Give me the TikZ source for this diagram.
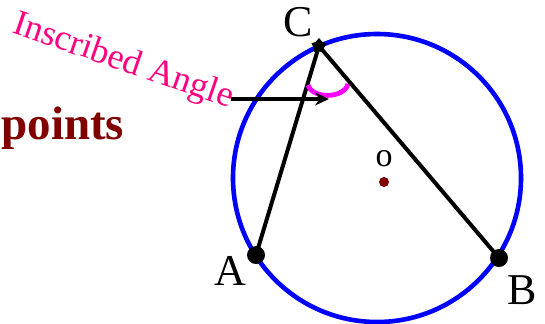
\documentclass[tikz,border=0pt]{standalone}
\usepackage{fontspec}
\setmainfont{Liberation Serif}
\usetikzlibrary{arrows.meta,shapes.geometric,calc}
\definecolor{markpink}{RGB}{255,0,255}
\definecolor{labelpink}{RGB}{255,0,128}
\definecolor{darkred}{RGB}{128,0,0}

\begin{document}
\begin{tikzpicture}[
  x=0.5pt, y=-0.5pt,
  >={Stealth[length=7pt,width=6.5pt]},
  vert/.style={circle, fill=black, inner sep=0pt, minimum size=9pt},
  apex/.style={star, star points=5, fill=black, inner sep=0pt, minimum size=8pt},
  ctr/.style={circle, fill=darkred, inner sep=0pt, minimum size=5pt},
  lbl/.style={font=\rmfamily\fontsize{22}{22}\selectfont, inner sep=0pt},
  chord/.style={draw=black, line width=2pt},
  rim/.style={draw=blue, line width=2.3pt},
  angmark/.style={draw=markpink, line width=2.4pt},
  ptr/.style={->, draw=black, line width=2pt},
]
\useasboundingbox (0,0) rectangle (545,323);

% circle and centre
\coordinate (O) at (377,178);
\draw[rim] (O) circle[radius=144];
\node[ctr] (dot) at (384,182) {};
\node[inner sep=0pt, font=\rmfamily\fontsize{17}{17}\selectfont] (olbl) at (384,159) {o};

% points on the circle
\node[vert] (A) at (256,255) {};
\node[vert] (B) at (499,258) {};
\node[apex] (C) at (319,46) {};

\node[lbl] (Albl) at (230,271) {A};
\node[lbl] (Blbl) at (522,290) {B};
\node[lbl] (Clbl) at (298,22) {C};

% chords
\draw[chord] (A.center) -- (C.center) -- (B.center);

% angle mark
\draw[angmark] ($(C)+(-11,39)$) .. controls ($(C)+(-7,53)$) and ($(C)+(25,53)$) .. ($(C)+(29,38)$);

% labels
\node[font=\rmfamily\fontsize{18}{18}\selectfont, text=labelpink,
      rotate=-19, inner sep=0pt] (ia) at (123,62) {Inscribed Angle};
\node[font=\rmfamily\bfseries\fontsize{23.5}{23.5}\selectfont, text=darkred,
      inner sep=0pt, anchor=west] (pts) at (1,128) {points};

\coordinate (tail) at (231,99);
\coordinate (tip) at (329,99);
\draw[ptr] (tail) -- (tip);
\end{tikzpicture}
\end{document}
